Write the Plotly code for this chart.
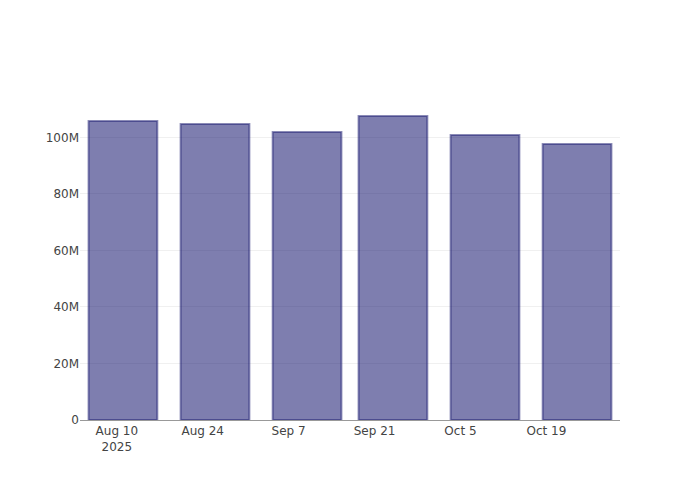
import plotly.graph_objects as go

dates = ["2025-08-11", "2025-08-26", "2025-09-10", "2025-09-24", "2025-10-09", "2025-10-24"]
values = [105.8e6, 104.8e6, 101.9e6, 107.6e6, 100.9e6, 97.7e6]

fig = go.Figure(go.Bar(
    x=dates, y=values,
    marker=dict(color="rgba(25,25,112,0.56)", line=dict(color="rgba(25,25,112,0.5)", width=2)),
))
fig.update_layout(
    width=700, height=500,
    margin=dict(l=72, r=88, t=92, b=88),
    font=dict(family="DejaVu Sans", size=12, color="#444"),
    plot_bgcolor="white", paper_bgcolor="white",
    showlegend=False,
    xaxis=dict(showgrid=False, showline=True, linecolor="#999", ticks=""),
    yaxis=dict(showgrid=True, gridcolor="#f0f0f0", zeroline=False, showline=False),
)
fig.write_html("out.html")
